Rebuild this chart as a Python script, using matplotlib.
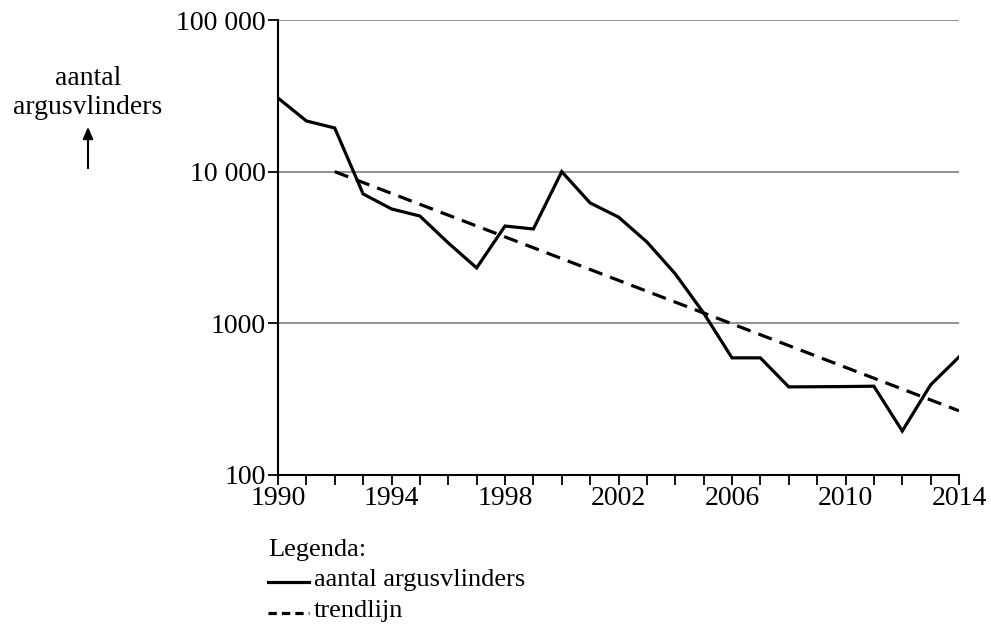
import matplotlib
matplotlib.use("Agg")
import matplotlib.pyplot as plt
from matplotlib.lines import Line2D
from matplotlib.ticker import FixedLocator, NullLocator

years = list(range(1990, 2015))
aantal = [30600, 21600, 19400, 7130, 5680, 5100, 3390, 2320, 4380, 4190,
          10000, 6220, 5020, 3440, 2120, 1170, 592, 592, 381, 382,
          383, 385, 195, 393, 600]
trend_years = [1992, 2014]
trend_values = [10000, 265]
x_ticklabels = ["1990", "1994", "1998", "2002", "2006", "2010", "2014"]
y_ticks = [100, 1000, 10000, 100000]
y_ticklabels = ["100", "1000", "10 000", "100 000"]

plt.rcParams['font.family'] = ['Liberation Serif', 'DejaVu Serif']
FS = 20

fig = plt.figure(figsize=(9.91, 6.32), dpi=100)
ax = fig.add_axes([278/991, 1-475/632, (959-278)/991, (475-20)/632])

ax.set_yscale('log')
ax.set_xlim(1990, 2014)
ax.set_ylim(100, 100000)

for yv in y_ticks[1:]:
    ax.axhline(yv, color='#808080', lw=1.2, zorder=1)

ax.plot(years, aantal, color='black', lw=2.3, solid_joinstyle='miter', zorder=3)
ax.plot(trend_years, trend_values, color='black', lw=2.3, linestyle=(0, (4.5, 2.6)), zorder=3)

for s in ['top', 'right']:
    ax.spines[s].set_visible(False)
for s in ['left', 'bottom']:
    ax.spines[s].set_linewidth(1.5)

ax.xaxis.set_major_locator(FixedLocator(years))
ax.set_xticklabels([str(y) if str(y) in x_ticklabels else "" for y in years])
ax.yaxis.set_major_locator(FixedLocator(y_ticks))
ax.yaxis.set_minor_locator(NullLocator())
ax.set_yticklabels(y_ticklabels)
ax.tick_params(axis='both', direction='out', length=7, width=1.3, labelsize=FS, colors='black', pad=1)
ax.tick_params(axis='y', pad=2)

# y-axis label with arrow
fig.text(88/991, 1-93/632, "aantal\nargusvlinders", ha='center', va='center',
         fontsize=FS, linespacing=1.2)
fig.add_artist(matplotlib.patches.FancyArrowPatch(
    (88/991, 1-171/632), (88/991, 1-124/632), transform=fig.transFigure,
    arrowstyle='-|>,head_length=7,head_width=3', color='black', lw=1.5))

# legend
LFS = 19
fig.text(268/991, 1-550/632, "Legenda:", ha='left', va='center', fontsize=LFS)
fig.add_artist(Line2D([268/991, 309/991], [1-582/632, 1-582/632], color='black', lw=2.3,
                      transform=fig.transFigure))
fig.text(314/991, 1-580/632, "aantal argusvlinders", ha='left', va='center', fontsize=LFS)
fig.add_artist(Line2D([268/991, 309/991], [1-613/632, 1-613/632], color='black', lw=2.3,
                      linestyle=(0, (2.6, 1.6)), transform=fig.transFigure))
fig.text(314/991, 1-611/632, "trendlijn", ha='left', va='center', fontsize=LFS)

fig.savefig("out.png", dpi=100, facecolor='white')
